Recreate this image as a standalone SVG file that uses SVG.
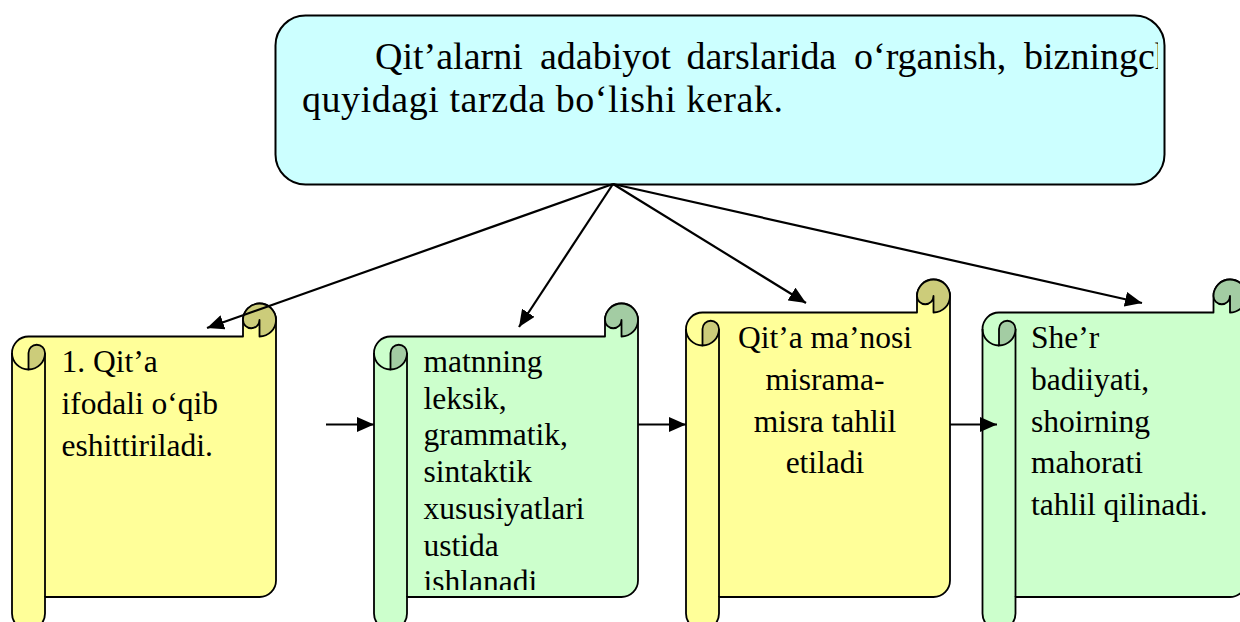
<svg xmlns="http://www.w3.org/2000/svg" width="1240" height="622" viewBox="0 0 1240 622">
<style>
.ln{stroke:#000;stroke-width:1.8;stroke-linejoin:round;fill:none}
.y{fill:#FFFF99}
.yd{fill:#CCCC7A}
.g{fill:#CCFFCC}
.gd{fill:#A3CCA3}
.sk{stroke:#000;stroke-width:1.8;stroke-linejoin:round}
.t{font-family:"Liberation Serif","Times New Roman",serif;fill:#000}
.big{font-size:38px}
.sm{font-size:31.5px}
.con{stroke:#000;stroke-width:2.2;fill:none;marker-end:url(#ah)}
</style>
<defs>
<marker id="ah" markerUnits="userSpaceOnUse" markerWidth="17" markerHeight="15" refX="17" refY="7.5" orient="auto">
<path d="M0,0 L17,7.5 L0,15 Z" fill="#000"/>
</marker>
<clipPath id="topclip"><rect x="277" y="17" width="881" height="166"/></clipPath>
<clipPath id="s2clip"><rect x="374" y="300" width="264" height="290"/></clipPath>
</defs>
<rect width="1240" height="622" fill="#fff"/>

<g id="topbox">
<rect x="275.5" y="15.5" width="889" height="169" rx="30" ry="30" fill="#CCFFFF" stroke="#000" stroke-width="2"/>
<g clip-path="url(#topclip)">
<text class="t big" y="69"><tspan x="375">Qit’alarni</tspan><tspan x="540">adabiyot</tspan><tspan x="686.5">darslarida</tspan><tspan x="854">o‘rganish,</tspan><tspan x="1024">bizningch</tspan></text>
<text class="t big" x="302" y="112" textLength="481" lengthAdjust="spacing">quyidagi tarzda bo‘lishi kerak.</text>
</g>
</g>

<g id="scroll1">
<g transform="translate(12,303.5)">
<path class="y sk" d="M0,49.5 A16.5,16.5 0 0 1 16.5,33 L231,33 L231,16.5 A16.5,16.5 0 0 1 264,16.5 L264,277 A16.5,16.5 0 0 1 247.5,293.5 L33,293.5 L33,310 A16.5,16.5 0 0 1 0,310 Z"/>
<path class="ln" d="M0,49.5 A16.5,16.5 0 0 0 16.5,66 M33,49.5 L33,293.5"/>
<path class="yd sk" d="M16.5,66 L16.5,49.5 A8.25,8.25 0 0 1 33,49.5 A16.5,16.5 0 0 1 16.5,66 Z"/>
<path class="yd sk" d="M247.5,33 A16.5,16.5 0 1 0 231,16.5 A8.25,8.25 0 0 0 247.5,16.5 Z"/>
</g>
<text class="t sm"><tspan x="61.5" y="372">1. Qit’a</tspan><tspan x="61.5" y="414">ifodali o‘qib</tspan><tspan x="61.5" y="456">eshittiriladi.</tspan></text>
</g>

<g id="scroll2">
<g transform="translate(374,303.5)">
<path class="g sk" d="M0,49.5 A16.5,16.5 0 0 1 16.5,33 L231,33 L231,16.5 A16.5,16.5 0 0 1 264,16.5 L264,277 A16.5,16.5 0 0 1 247.5,293.5 L33,293.5 L33,310 A16.5,16.5 0 0 1 0,310 Z"/>
<path class="ln" d="M0,49.5 A16.5,16.5 0 0 0 16.5,66 M33,49.5 L33,293.5"/>
<path class="gd sk" d="M16.5,66 L16.5,49.5 A8.25,8.25 0 0 1 33,49.5 A16.5,16.5 0 0 1 16.5,66 Z"/>
<path class="gd sk" d="M247.5,33 A16.5,16.5 0 1 0 231,16.5 A8.25,8.25 0 0 0 247.5,16.5 Z"/>
</g>
<g clip-path="url(#s2clip)">
<text class="t sm"><tspan x="423.5" y="372">matnning</tspan><tspan x="423.5" y="408.7">leksik,</tspan><tspan x="423.5" y="445.4">grammatik,</tspan><tspan x="423.5" y="482.1">sintaktik</tspan><tspan x="423.5" y="518.8">xususiyatlari</tspan><tspan x="423.5" y="555.5">ustida</tspan><tspan x="423.5" y="592.2">ishlanadi</tspan></text>
</g>
</g>

<g id="scroll3">
<g transform="translate(686,279.5)">
<path class="y sk" d="M0,49.5 A16.5,16.5 0 0 1 16.5,33 L231,33 L231,16.5 A16.5,16.5 0 0 1 264,16.5 L264,301 A16.5,16.5 0 0 1 247.5,317.5 L33,317.5 L33,334 A16.5,16.5 0 0 1 0,334 Z"/>
<path class="ln" d="M0,49.5 A16.5,16.5 0 0 0 16.5,66 M33,49.5 L33,317.5"/>
<path class="yd sk" d="M16.5,66 L16.5,49.5 A8.25,8.25 0 0 1 33,49.5 A16.5,16.5 0 0 1 16.5,66 Z"/>
<path class="yd sk" d="M247.5,33 A16.5,16.5 0 1 0 231,16.5 A8.25,8.25 0 0 0 247.5,16.5 Z"/>
</g>
<text class="t sm" text-anchor="middle"><tspan x="825" y="348.3">Qit’a ma’nosi</tspan><tspan x="825" y="390">misrama-</tspan><tspan x="825" y="431.7">misra tahlil</tspan><tspan x="825" y="473.3">etiladi</tspan></text>
</g>

<g id="scroll4">
<g transform="translate(982.5,279.5)">
<path class="g sk" d="M0,49.5 A16.5,16.5 0 0 1 16.5,33 L231,33 L231,16.5 A16.5,16.5 0 0 1 264,16.5 L264,301 A16.5,16.5 0 0 1 247.5,317.5 L33,317.5 L33,334 A16.5,16.5 0 0 1 0,334 Z"/>
<path class="ln" d="M0,49.5 A16.5,16.5 0 0 0 16.5,66 M33,49.5 L33,317.5"/>
<path class="gd sk" d="M16.5,66 L16.5,49.5 A8.25,8.25 0 0 1 33,49.5 A16.5,16.5 0 0 1 16.5,66 Z"/>
<path class="gd sk" d="M247.5,33 A16.5,16.5 0 1 0 231,16.5 A8.25,8.25 0 0 0 247.5,16.5 Z"/>
</g>
<text class="t sm"><tspan x="1031" y="348.3">She’r</tspan><tspan x="1031" y="390">badiiyati,</tspan><tspan x="1031" y="431.7">shoirning</tspan><tspan x="1031" y="473.3">mahorati</tspan><tspan x="1031" y="515">tahlil qilinadi.</tspan></text>
</g>

<g id="connectors">
<path class="con" d="M613,184 L207,328"/>
<path class="con" d="M613,184 L519,327"/>
<path class="con" d="M613,184 L806,303"/>
<path class="con" d="M613,184 L1142,303"/>
<path class="con" d="M326,424.5 L374,424.5"/>
<path class="con" d="M638,424.5 L686,424.5"/>
<path class="con" d="M950,424.5 L997,424.5"/>
</g>
</svg>
